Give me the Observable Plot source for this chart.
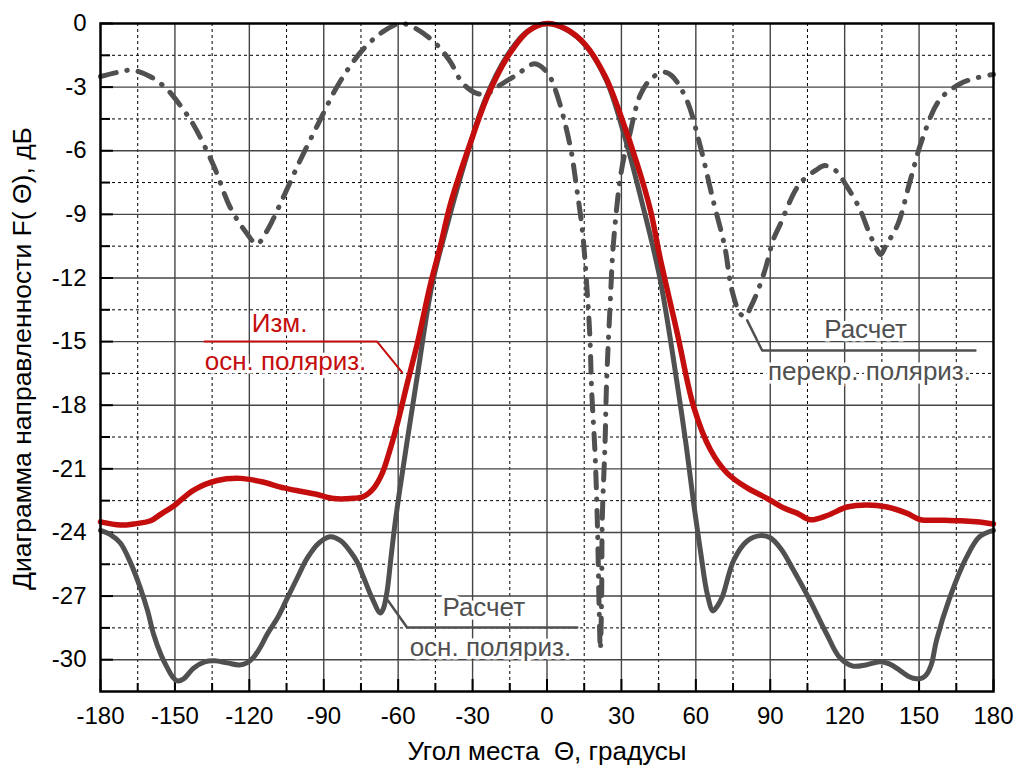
<!DOCTYPE html>
<html><head><meta charset="utf-8">
<script src="https://cdn.jsdelivr.net/npm/d3@7"></script>
<script src="https://cdn.jsdelivr.net/npm/@observablehq/plot@0.6"></script>
<style>body{margin:0;background:#fff}</style>
</head><body><div id="chart"></div>
<script>
// Measured co-polar pattern (red)
const measAngle = [-180,-172,-166.6,-159.8,-155.8,-150.5,-142.4,-133,-123.6,-115.5,-106.1,-99.4,-93,-86,-79.2,-73.9,-69.8,-66.4,-63.8,-60.4,-56.4,-52.3,-47,-43,-38.9,-30.8,-23.5,-15.5,-7.5,0,7.5,15.5,23.5,29.6,36.3,41.7,45.5,52.5,59.2,65.9,72.6,80.7,88.8,95.5,101,106.2,113,121,129,137.1,145.2,150.6,158,166.7,173,180];
const measDb    = [-23.5,-23.65,-23.6,-23.45,-23.15,-22.75,-22.0,-21.55,-21.45,-21.6,-21.9,-22.06,-22.2,-22.4,-22.4,-22.3,-21.9,-21.2,-20.3,-18.9,-17.0,-15.1,-12.3,-10.5,-8.5,-5.6,-3.3,-1.5,-0.35,0,-0.25,-1.0,-2.5,-4.3,-6.6,-8.8,-11.0,-14.6,-18.1,-20.1,-21.2,-21.9,-22.4,-22.85,-23.1,-23.4,-23.2,-22.8,-22.7,-22.8,-23.1,-23.4,-23.42,-23.45,-23.5,-23.6];

// Computed co-polar pattern (solid gray)
const calcAngle = [-180,-176,-172,-168,-164,-161,-158.6,-155.5,-153,-151,-149,-146.5,-142.5,-138,-134,-129,-124,-121,-118.4,-115.5,-112.8,-108.5,-104.7,-100.5,-96.6,-92,-87.4,-83,-79.3,-76.5,-74,-70.5,-67.2,-66,-64.5,-63,-61.5,-59.5,-56.4,-52,-46.3,-40,-33,-25,-16,-8,0,8,16,24,31,38,45.5,52.5,56,59.2,61.9,64.6,66.9,68.5,70.6,75.3,80.7,86,90,94.5,99,106,112.8,118,123.3,128.5,134.1,138,142.2,146,149,151.5,153,155,157,162.3,169,174.4,180];
const calcDb    = [-23.9,-24.1,-24.5,-25.4,-26.6,-27.7,-28.8,-29.8,-30.4,-30.8,-31.0,-30.9,-30.4,-30.1,-30.05,-30.15,-30.25,-30.15,-29.9,-29.4,-28.8,-28.0,-27.1,-26.1,-25.2,-24.5,-24.2,-24.4,-24.9,-25.4,-26.1,-27.1,-27.8,-27.6,-26.8,-25.3,-23.8,-22.1,-19.7,-16.4,-12.3,-9.4,-6.5,-3.6,-1.5,-0.38,0,-0.3,-1.1,-2.7,-5.2,-8.3,-12.0,-17.0,-19.8,-22.7,-24.9,-26.9,-27.7,-27.5,-27.06,-25.3,-24.4,-24.15,-24.25,-24.8,-25.7,-27.2,-28.8,-29.9,-30.3,-30.25,-30.1,-30.2,-30.5,-30.8,-30.9,-30.85,-30.7,-30.2,-29.1,-27.1,-25.2,-24.2,-23.9];

// Computed cross-polar pattern (dash-dot)
const crossAngle = [-180,-173,-167.2,-160,-153.2,-147,-142.4,-134.4,-127.6,-121,-117,-113,-107.5,-100.1,-92.1,-84,-74,-65,-58.5,-52,-44.4,-39,-34.1,-28.3,-24,-20.2,-12,-5,0,3.3,9.3,12,14.3,16,17.3,18,19.3,20,20.5,21,21.5,22,22.3,23.4,24,25.4,26.7,29.4,31.4,33,37.5,42,46.9,50.2,56.3,61.6,67,71.7,74.4,78,80,82,85,88.2,91.2,93.9,101.6,108.6,112,116,121,126.1,130,132.8,134.5,136.5,141.5,146.2,151.3,158.3,166.4,173.7,180];
const crossDb    = [-2.5,-2.3,-2.2,-2.5,-3.1,-4.0,-4.8,-6.7,-8.7,-9.9,-10.4,-9.8,-8.5,-6.6,-4.7,-2.85,-1.2,-0.3,0,-0.3,-1.0,-1.8,-2.8,-3.3,-3.3,-3.0,-2.4,-1.9,-2.3,-3.1,-5.75,-7.8,-9.8,-12.3,-14.8,-17.3,-20.1,-22.3,-24.5,-27.5,-29.5,-27.2,-23.3,-19.8,-17.0,-13.4,-10.5,-7.4,-6.1,-5.4,-3.4,-2.6,-2.3,-2.45,-3.6,-5.7,-8.35,-10.55,-12.5,-13.7,-13.8,-13.4,-12.6,-11.5,-10.2,-9.5,-7.6,-6.9,-6.7,-6.9,-7.7,-8.75,-9.9,-10.6,-10.9,-10.5,-9.45,-7.5,-5.45,-3.6,-2.85,-2.55,-2.4];

// Axis ticks
const xMajor = [-180,-150,-120,-90,-60,-30,0,30,60,90,120,150,180];
const xMinor = [-165,-135,-105,-75,-45,-15,15,45,75,105,135,165];
const yMajor = [0,-3,-6,-9,-12,-15,-18,-21,-24,-27,-30];
const yMinor = [-1.5,-4.5,-7.5,-10.5,-13.5,-16.5,-19.5,-22.5,-25.5,-28.5];

// Labels
const xTitle = "Угол места  Θ, градусы";
const yTitle = "Диаграмма направленности F( Θ), дБ";
const redLabels = ["Изм.", "осн. поляриз."];
const redLabelX = [-107.8, -105.4];
const redLabelY = [-14.15, -15.95];
const redLeaderX = [-138.1, -68.5, -58.4];
const redLeaderY = [-15.0, -15.0, -16.45];
const calcLabels = ["Расчет", "осн. поляриз."];
const calcLabelX = [-25.5, -22.8];
const calcLabelY = [-27.55, -29.45];
const calcLeaderX = [-64.2, -56.4, 12.2];
const calcLeaderY = [-27.2, -28.48, -28.48];
const crossLabels = ["Расчет", "перекр. поляриз."];
const crossLabelX = [128.4, 130];
const crossLabelY = [-14.45, -16.42];
const crossLeaderX = [80.7, 86.75, 172.7];
const crossLeaderY = [-14.0, -15.42, -15.42];

const zip = (a, b) => a.map((v, i) => ({x: v, y: b[i]}));
const meas = zip(measAngle, measDb);
const calc = zip(calcAngle, calcDb);
const cross = zip(crossAngle, crossDb);
const lab = (t, xs, ys) => t.map((s, i) => ({t: s, x: xs[i], y: ys[i]}));

const W = 1014, H = 767, mL = 100, mR = 21, mT = 23, mB = 76;
const fw = W - mL - mR, fh = H - mT - mB;
const RED = "#c40d0d", GRAY = "#505050";
const font = "'Liberation Sans', Arial, sans-serif";

const chart = Plot.plot({
  width: W, height: H,
  marginLeft: mL, marginRight: mR, marginTop: mT, marginBottom: mB,
  style: {fontFamily: font, fontSize: "21px", background: "#fff", color: "#000"},
  x: {domain: [-180, 180], axis: null},
  y: {domain: [-31.5, 0], axis: null},
  marks: [
    Plot.ruleX(xMinor, {x: d => d, stroke: "#000", strokeWidth: 1, strokeDasharray: "3,3"}),
    Plot.ruleY(yMinor, {y: d => d, stroke: "#000", strokeWidth: 1, strokeDasharray: "3,3"}),
    Plot.ruleX(xMajor.slice(1, -1), {x: d => d, stroke: "#444", strokeWidth: 1.4}),
    Plot.ruleY(yMajor.slice(1), {y: d => d, stroke: "#444", strokeWidth: 1.4}),
    Plot.tickX(xMajor, {x: d => d, insetTop: fh - 12, stroke: "#000", strokeWidth: 2}),
    Plot.tickX(xMinor, {x: d => d, insetTop: fh - 8, stroke: "#000", strokeWidth: 2}),
    Plot.tickY(yMajor, {y: d => d, insetRight: fw - 13, stroke: "#000", strokeWidth: 2}),
    Plot.tickY(yMinor, {y: d => d, insetRight: fw - 10, stroke: "#000", strokeWidth: 2}),
    Plot.text(xMajor, {x: d => d, text: d => String(d), frameAnchor: "bottom", lineAnchor: "top", dy: 15, fontSize: 24, fill: "#000"}),
    Plot.text(yMajor, {y: d => d, text: d => String(d), frameAnchor: "left", textAnchor: "end", lineAnchor: "middle", dx: -14, fontSize: 24, fill: "#000"}),
    Plot.text([xTitle], {frameAnchor: "bottom", dy: 60, fontSize: 26, lineAnchor: "middle", fill: "#000"}),
    Plot.text([yTitle], {frameAnchor: "left", rotate: -90, textAnchor: "middle", dx: -78, dy: 1, fontSize: 26.5, lineAnchor: "middle", fill: "#000"}),
    Plot.line(cross, {x: "x", y: "y", curve: "catmull-rom", stroke: GRAY, strokeWidth: 5, strokeDasharray: "16,11,0.5,11", strokeLinecap: "round"}),
    Plot.line(calc, {x: "x", y: "y", curve: "catmull-rom", stroke: GRAY, strokeWidth: 5}),
    Plot.line(meas, {x: "x", y: "y", curve: "catmull-rom", stroke: RED, strokeWidth: 5.5}),
    Plot.text(lab(crossLabels, crossLabelX, crossLabelY), {x: "x", y: "y", text: "t", fontSize: 26, fill: GRAY, stroke: "#fff", strokeWidth: 7}),
    Plot.line(zip(crossLeaderX, crossLeaderY), {x: "x", y: "y", stroke: GRAY, strokeWidth: 2.5}),
    Plot.text(lab(calcLabels, calcLabelX, calcLabelY), {x: "x", y: "y", text: "t", fontSize: 26, fill: GRAY, stroke: "#fff", strokeWidth: 7}),
    Plot.line(zip(calcLeaderX, calcLeaderY), {x: "x", y: "y", stroke: GRAY, strokeWidth: 2.5}),
    Plot.text(lab(redLabels, redLabelX, redLabelY), {x: "x", y: "y", text: "t", fontSize: 26, fill: RED, stroke: "#fff", strokeWidth: 7}),
    Plot.line(zip(redLeaderX, redLeaderY), {x: "x", y: "y", stroke: RED, strokeWidth: 2}),
    Plot.frame({stroke: "#000", strokeWidth: 2.5})
  ]
});
document.getElementById("chart").appendChild(chart);
</script>
</body></html>
